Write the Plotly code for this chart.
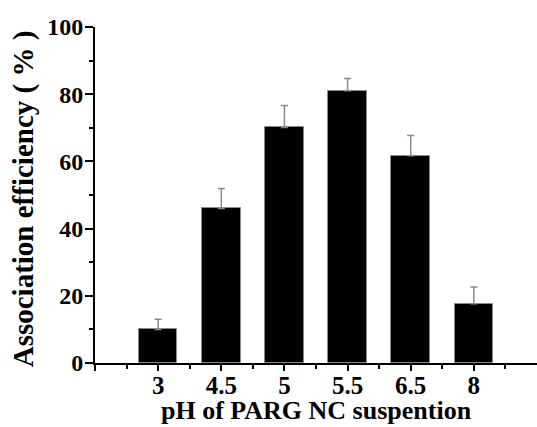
import plotly.graph_objects as go

categories = ["3", "4.5", "5", "5.5", "6.5", "8"]
efficiency = [10.0, 46.0, 70.1, 81.0, 61.7, 17.6]
error_up = [3.0, 5.9, 6.5, 3.7, 6.0, 5.0]
y_ticks = [0, 20, 40, 60, 80, 100]

positions = list(range(1, len(categories) + 1))

FONT = "Liberation Serif"

fig = go.Figure()
fig.add_trace(go.Bar(
    x=positions,
    y=efficiency,
    width=0.61,
    marker=dict(color="black", line=dict(color="#8a8a8a", width=1)),
    error_y=dict(type="data", symmetric=False, array=error_up,
                 arrayminus=[0] * len(error_up),
                 color="#8a8a8a", thickness=1.5, width=3.5),
    showlegend=False,
))

fig.update_layout(
    width=537, height=427,
    margin=dict(l=95, r=0, t=27, b=64),
    plot_bgcolor="white", paper_bgcolor="white",
    font=dict(family=FONT, color="black"),
    bargap=0,
)

fig.update_xaxes(
    range=[0, 7],
    tickmode="array",
    tickvals=[0] + positions,
    ticktext=[""] + categories,
    tickfont=dict(family=FONT, size=25, weight="bold"),
    ticks="outside", ticklen=6, tickwidth=2, tickcolor="black",
    ticklabelstandoff=-7,
    minor=dict(tickvals=[p - 0.5 for p in positions] + [6.5],
               ticks="outside", ticklen=4, tickwidth=2, tickcolor="black"),
    showline=True, linecolor="black", linewidth=2,
    showgrid=False, zeroline=False,
)

fig.add_annotation(
    text="pH of PARG NC suspention",
    xref="paper", yref="paper", x=0.5, y=-0.19,
    xanchor="center", yanchor="bottom", showarrow=False,
    font=dict(family=FONT, size=26, weight="bold", color="black"),
)

fig.add_annotation(
    text="Association efficiency ( % )",
    xref="paper", yref="paper", x=-0.163, y=0.49,
    xanchor="center", yanchor="middle", showarrow=False, textangle=-90,
    font=dict(family=FONT, size=29, weight="bold", color="black"),
)

fig.update_yaxes(
    range=[0, 100],
    tickmode="array",
    tickvals=y_ticks,
    ticktext=[str(v) for v in y_ticks],
    tickfont=dict(family=FONT, size=24, weight="bold"),
    ticks="outside", ticklen=8, tickwidth=2, tickcolor="black",
    ticklabelstandoff=-3,
    minor=dict(tickvals=[10, 30, 50, 70, 90],
               ticks="outside", ticklen=4, tickwidth=2, tickcolor="black"),
    showline=True, linecolor="black", linewidth=2,
    showgrid=False, zeroline=False,
)

fig.write_html("out.html")
